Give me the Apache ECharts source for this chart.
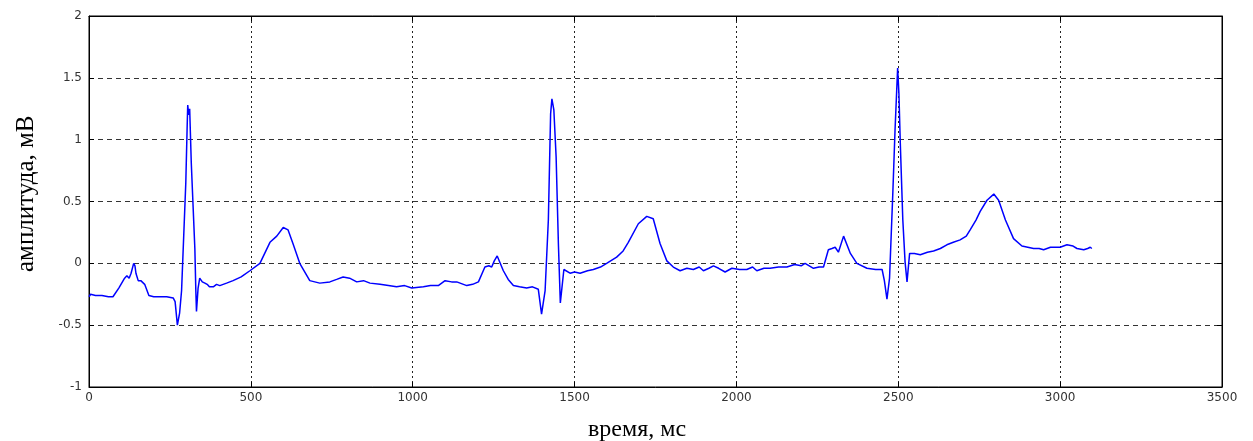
<!DOCTYPE html>
<html>
<head>
<meta charset="utf-8">
<script src="https://cdn.jsdelivr.net/npm/echarts@6/dist/echarts.min.js"></script>
<style>
html,body{margin:0;padding:0;background:#fff;}
#c{width:1253px;height:441px;}
</style>
</head>
<body>
<div id="c"></div>
<script>
// time, ms
const timeMs = [0,5,20,40,60,74,92,110,117,124,130,138,142,145,152,160,172,185,200,220,240,260,266,273,280,286,299,303,305,308,311,316,327,330,332,337,342,350,358,365,372,384,394,404,425,445,470,497,528,559,580,600,615,630,651,682,713,744,765,785,805,827,848,868,899,925,950,975,997,1033,1055,1079,1100,1120,1136,1167,1185,1203,1223,1235,1244,1252,1261,1280,1295,1311,1330,1352,1370,1388,1398,1409,1419,1426,1430,1436,1443,1450,1456,1467,1486,1500,1517,1540,1558,1580,1599,1630,1650,1666,1697,1723,1743,1764,1785,1805,1826,1847,1867,1885,1898,1915,1929,1945,1965,1986,2010,2032,2050,2063,2085,2104,2130,2156,2180,2200,2212,2238,2255,2269,2284,2295,2305,2315,2331,2352,2372,2403,2430,2450,2457,2465,2473,2483,2490,2498,2502,2506,2514,2521,2527,2535,2550,2568,2590,2609,2630,2650,2670,2691,2710,2722,2740,2753,2774,2795,2810,2831,2856,2882,2900,2918,2935,2949,2970,3000,3021,3040,3052,3073,3085,3093,3098];
// amplitude, mV
const amplitude = [-0.27,-0.25,-0.26,-0.26,-0.27,-0.27,-0.2,-0.12,-0.1,-0.12,-0.08,0.0,-0.02,-0.08,-0.14,-0.14,-0.17,-0.26,-0.27,-0.27,-0.27,-0.28,-0.31,-0.5,-0.4,-0.22,0.65,1.08,1.28,1.2,1.25,0.81,0.12,-0.22,-0.39,-0.2,-0.12,-0.15,-0.16,-0.17,-0.19,-0.19,-0.17,-0.18,-0.16,-0.14,-0.11,-0.06,0.0,0.17,0.22,0.29,0.27,0.16,0.0,-0.14,-0.16,-0.15,-0.13,-0.11,-0.12,-0.15,-0.14,-0.16,-0.17,-0.18,-0.19,-0.18,-0.2,-0.19,-0.18,-0.18,-0.14,-0.15,-0.15,-0.18,-0.17,-0.15,-0.03,-0.02,-0.03,0.02,0.06,-0.06,-0.13,-0.18,-0.19,-0.2,-0.19,-0.21,-0.41,-0.22,0.35,1.21,1.33,1.24,0.86,0.16,-0.32,-0.05,-0.08,-0.07,-0.08,-0.06,-0.05,-0.03,0.0,0.05,0.1,0.17,0.32,0.38,0.36,0.16,0.02,-0.03,-0.06,-0.04,-0.05,-0.03,-0.06,-0.04,-0.02,-0.04,-0.07,-0.04,-0.05,-0.05,-0.03,-0.06,-0.04,-0.04,-0.03,-0.03,-0.01,-0.02,0.0,-0.04,-0.03,-0.03,0.11,0.12,0.13,0.09,0.22,0.08,0.0,-0.04,-0.05,-0.05,-0.14,-0.29,-0.12,0.56,1.08,1.58,1.37,0.99,0.35,0.01,-0.15,0.08,0.08,0.07,0.09,0.1,0.12,0.15,0.17,0.19,0.22,0.27,0.35,0.42,0.51,0.56,0.51,0.35,0.2,0.14,0.13,0.12,0.12,0.11,0.13,0.13,0.15,0.14,0.12,0.11,0.12,0.13,0.12];
const xTicks = [0,500,1000,1500,2000,2500,3000,3500];
const yTicks = [-1,-0.5,0,0.5,1,1.5,2];

const data = timeMs.map((t,i)=>[t,amplitude[i]]);
const chart = echarts.init(document.getElementById('c'));
const labelStyle = {color:'#333', fontSize:12, fontFamily:'DejaVu Sans'};
chart.setOption({
  animation:false,
  grid:{left:89,right:31,top:16,bottom:54,show:true,borderColor:'#000',borderWidth:1},
  graphic:[
    {type:'text', x:588, y:418, style:{text:'время, мс', font:'24px "Liberation Serif"', fill:'#000'}},
    {type:'text', x:14, y:272, rotation:Math.PI/2, style:{text:'амплитуда, мВ', font:'25px "Liberation Serif"', fill:'#000'}}
  ],
  xAxis:[{
    type:'value', min:xTicks[0], max:xTicks[xTicks.length-1], interval:500,
    axisLine:{show:true,onZero:false,lineStyle:{color:'#000'}},
    axisTick:{show:true,inside:true,length:5,lineStyle:{color:'#000'}},
    axisLabel:Object.assign({margin:5, formatter:v=>String(v)},labelStyle),
    splitLine:{show:true,lineStyle:{color:'#222',type:[2,3],width:1}}
  },{
    type:'value', position:'top', min:0, max:3500, interval:500,
    axisLine:{show:true,onZero:false,lineStyle:{color:'#000'}},
    axisTick:{show:true,inside:true,length:5,lineStyle:{color:'#000'}},
    axisLabel:{show:false}, splitLine:{show:false}
  }],
  yAxis:[{
    type:'value', min:yTicks[0], max:yTicks[yTicks.length-1], interval:0.5,
    axisLine:{show:true,onZero:false,lineStyle:{color:'#000'}},
    axisTick:{show:true,inside:true,length:5,lineStyle:{color:'#000'}},
    axisLabel:Object.assign({margin:7, formatter:v=>String(v)},labelStyle),
    splitLine:{show:true,lineStyle:{color:'#333',type:[5,4],width:1}}
  },{
    type:'value', position:'right', min:-1, max:2, interval:0.5,
    axisLine:{show:true,onZero:false,lineStyle:{color:'#000'}},
    axisTick:{show:true,inside:true,length:5,lineStyle:{color:'#000'}},
    axisLabel:{show:false}, splitLine:{show:false}
  }],
  series:[{
    type:'line', data:data, showSymbol:false, xAxisIndex:0, yAxisIndex:0,
    lineStyle:{color:'#0000ff',width:1.5}, itemStyle:{color:'#0000ff'}
  }]
});
</script>
</body>
</html>
